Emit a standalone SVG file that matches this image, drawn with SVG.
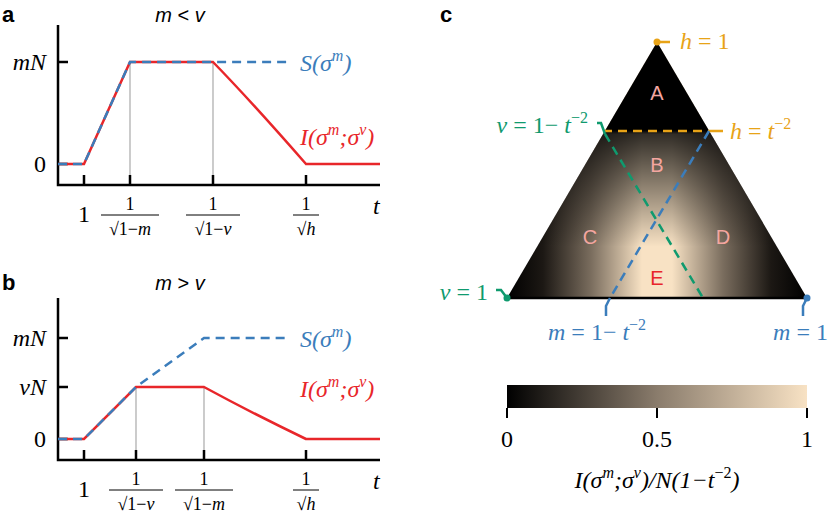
<svg xmlns="http://www.w3.org/2000/svg" width="832" height="513" viewBox="0 0 832 513">
<style>
.ax{stroke:#000;stroke-width:2.5;fill:none}
.tk{stroke:#000;stroke-width:2.5}
.gr{stroke:#aaa;stroke-width:1.2}
.red{stroke:#e8262a;stroke-width:2.5;fill:none}
.bl{stroke:#3b7dbb;stroke-width:2.5;fill:none;stroke-dasharray:9 6}
.m{font-family:"Liberation Serif",serif;font-size:24px}
.mi{font-family:"Liberation Serif",serif;font-size:24px;font-style:italic}
.fr{font-family:"Liberation Serif",serif;font-size:18px}
.h{font-family:"Liberation Sans",sans-serif;font-size:22px;font-weight:bold}
.s{font-family:"Liberation Sans",sans-serif;font-size:20px}
.L{font-family:"Liberation Sans",sans-serif;font-size:20px;fill:#f4a6a0}
</style>
<defs>
<linearGradient id="hz" x1="507" x2="807" y1="0" y2="0" gradientUnits="userSpaceOnUse">
<stop offset="0" stop-color="#000"/><stop offset="0.12" stop-color="#1c1814"/><stop offset="0.28" stop-color="#7a6d5e"/><stop offset="0.45" stop-color="#f8e2c4"/><stop offset="0.55" stop-color="#f8e2c4"/><stop offset="0.72" stop-color="#7a6d5e"/><stop offset="0.88" stop-color="#1c1814"/><stop offset="1" stop-color="#000"/></linearGradient>
<linearGradient id="vt" x1="0" x2="0" y1="42" y2="298" gradientUnits="userSpaceOnUse">
<stop offset="0" stop-color="#000" stop-opacity="1"/><stop offset="0.345" stop-color="#000" stop-opacity="1"/><stop offset="0.36" stop-color="#000" stop-opacity="0.8"/><stop offset="0.8" stop-color="#000" stop-opacity="0"/><stop offset="1" stop-color="#000" stop-opacity="0"/></linearGradient>
<linearGradient id="cb" x1="0" x2="1" y1="0" y2="0">
<stop offset="0" stop-color="#000"/><stop offset="0.5" stop-color="#8a7c6c"/><stop offset="1" stop-color="#f8e2c4"/></linearGradient>
</defs>
<text class="h" x="2" y="22">a</text>
<text class="h" x="2" y="290">b</text>
<text class="h" x="440" y="22">c</text>
<g id="panel-a">
<text class="s" x="180" y="22" text-anchor="middle"><tspan font-style="italic">m</tspan> &lt; <tspan font-style="italic">v</tspan></text>
<path class="ax" d="M58 25 V185 H380"/>
<path class="tk" d="M58 62 H68 M58 164 H68 M84 185 V175 M130 185 V175 M213 185 V175 M306 185 V175"/>
<path class="gr" d="M130 62 V175 M213 62 V175"/>
<path class="red" d="M58 164 H84 L130 62 H213 Q250 100 306 164 H380"/>
<path class="bl" d="M58 164 H84 L130 62 H290"/>
<text class="mi" x="46" y="70" text-anchor="end">mN</text>
<text class="m" x="46" y="172" text-anchor="end">0</text>
<text class="mi" x="300" y="71" fill="#3b7dbb">S(σ<tspan font-size="16" dy="-10">m</tspan><tspan dy="10">)</tspan></text>
<text class="mi" x="300" y="145" fill="#e8262a">I(σ<tspan font-size="16" dy="-10">m</tspan><tspan dy="10">;σ</tspan><tspan font-size="16" dy="-10">v</tspan><tspan dy="10">)</tspan></text>
<text class="m" x="84" y="222" text-anchor="middle">1</text>
<text class="mi" x="373" y="214">t</text>
<g class="fr" text-anchor="middle">
<text x="130" y="210">1</text><path d="M101 215 H159" stroke="#000"/><text x="130" y="235">√1−<tspan font-style="italic">m</tspan></text>
<text x="213" y="210">1</text><path d="M186 215 H240" stroke="#000"/><text x="213" y="235">√1−<tspan font-style="italic">v</tspan></text>
<text x="306" y="210">1</text><path d="M293 215 H319" stroke="#000"/><text x="306" y="235">√<tspan font-style="italic">h</tspan></text>
</g>
</g>
<g id="panel-b">
<text class="s" x="180" y="290" text-anchor="middle"><tspan font-style="italic">m</tspan> &gt; <tspan font-style="italic">v</tspan></text>
<path class="ax" d="M58 298 V460 H380"/>
<path class="tk" d="M58 338 H68 M58 387 H68 M58 439 H68 M84 460 V450 M136 460 V450 M204 460 V450 M306 460 V450"/>
<path class="gr" d="M136 387 V450 M204 387 V450"/>
<path class="red" d="M58 439 H84 L136 387 H204 Q250 412 306 439 H380"/>
<path class="bl" d="M58 439 H84 L136 387 L204 338 H290"/>
<text class="mi" x="46" y="346" text-anchor="end">mN</text>
<text class="mi" x="46" y="395" text-anchor="end">vN</text>
<text class="m" x="46" y="447" text-anchor="end">0</text>
<text class="mi" x="300" y="347" fill="#3b7dbb">S(σ<tspan font-size="16" dy="-10">m</tspan><tspan dy="10">)</tspan></text>
<text class="mi" x="300" y="397" fill="#e8262a">I(σ<tspan font-size="16" dy="-10">m</tspan><tspan dy="10">;σ</tspan><tspan font-size="16" dy="-10">v</tspan><tspan dy="10">)</tspan></text>
<text class="m" x="84" y="497" text-anchor="middle">1</text>
<text class="mi" x="373" y="489">t</text>
<g class="fr" text-anchor="middle">
<text x="136" y="485">1</text><path d="M109 490 H163" stroke="#000"/><text x="136" y="510">√1−<tspan font-style="italic">v</tspan></text>
<text x="204" y="485">1</text><path d="M175 490 H233" stroke="#000"/><text x="204" y="510">√1−<tspan font-style="italic">m</tspan></text>
<text x="306" y="485">1</text><path d="M293 490 H319" stroke="#000"/><text x="306" y="510">√<tspan font-style="italic">h</tspan></text>
</g>
</g>
<g id="triangle">
<path d="M657 42 L807 298 L507 298 Z" fill="url(#hz)"/>
<path d="M657 42 L807 298 L507 298 Z" fill="url(#vt)"/>
<path d="M507 298 H807" stroke="#000" stroke-width="2.5"/>
<text class="L" x="657" y="100" text-anchor="middle">A</text>
<text class="L" x="657" y="172" text-anchor="middle">B</text>
<text class="L" x="590" y="244" text-anchor="middle">C</text>
<text class="L" x="723" y="244" text-anchor="middle">D</text>
<text class="s" x="657" y="285" text-anchor="middle" fill="#e8262a">E</text>
</g>
<g id="connectors" fill="none" stroke-width="2.5">
<path d="M603 131 H711" stroke="#e8a317" stroke-dasharray="9 6"/>
<path d="M605 134 L703 298" stroke="#0f9a6e" stroke-dasharray="9 6"/>
<path d="M709 131 L610 298" stroke="#3b7dbb" stroke-dasharray="9 6"/>
<path d="M657 42 H670 M711 131 H723" stroke="#e8a317"/>
<path d="M597 123 H601 L605 134 M496 290 H501 L507 298" stroke="#0f9a6e"/>
<path d="M610 298 L606 306 V316 M807 298 L803 306 V316" stroke="#3b7dbb"/>
<circle cx="657" cy="42" r="3.5" fill="#e8a317" stroke="none"/>
<circle cx="507" cy="298" r="3.5" fill="#0f9a6e" stroke="none"/>
<circle cx="807" cy="298" r="3.5" fill="#3b7dbb" stroke="none"/>
</g>
<g id="tri-labels" class="mi">
<text x="680" y="49" fill="#e8a317">h<tspan font-style="normal"> = 1</tspan></text>
<text x="730" y="139" fill="#e8a317">h<tspan font-style="normal"> = </tspan>t<tspan font-size="16" dy="-10" font-style="normal">−2</tspan></text>
<text x="588" y="133" fill="#0f9a6e" text-anchor="end">v<tspan font-style="normal"> = 1− </tspan>t<tspan font-size="16" dy="-10" font-style="normal">−2</tspan></text>
<text x="488" y="300" fill="#0f9a6e" text-anchor="end">v<tspan font-style="normal"> = 1</tspan></text>
<text x="548" y="340" fill="#3b7dbb">m<tspan font-style="normal"> = 1− </tspan>t<tspan font-size="16" dy="-10" font-style="normal">−2</tspan></text>
<text x="828" y="340" fill="#3b7dbb" text-anchor="end">m<tspan font-style="normal"> = 1</tspan></text>
</g>
<g id="colorbar">
<rect x="507" y="385" width="300" height="23" fill="url(#cb)"/>
<path d="M507 408 V418 M657 408 V418 M807 408 V418" stroke="#000" stroke-width="2"/>
<text class="m" x="507" y="447" text-anchor="middle">0</text>
<text class="m" x="657" y="447" text-anchor="middle">0.5</text>
<text class="m" x="807" y="447" text-anchor="middle">1</text>
<text class="mi" x="657" y="488" text-anchor="middle">I(σ<tspan font-size="16" dy="-10">m</tspan><tspan dy="10">;σ</tspan><tspan font-size="16" dy="-10">v</tspan><tspan dy="10">)/N(1−t</tspan><tspan font-size="16" dy="-10" font-style="normal">−2</tspan><tspan dy="10">)</tspan></text>
</g>
</svg>
